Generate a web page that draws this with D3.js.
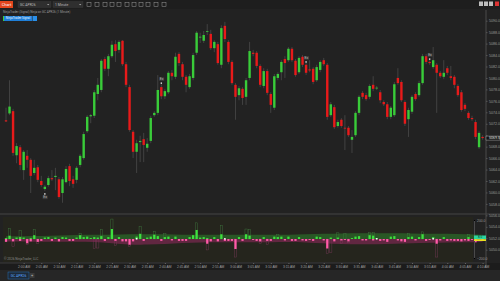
<!DOCTYPE html>
<html>
<head>
<meta charset="utf-8">
<script src="https://cdn.jsdelivr.net/npm/d3@7/dist/d3.min.js"></script>
<style>
html,body{margin:0;padding:0;background:#1c1c1c;}
svg{display:block;font-family:Roboto,"Open Sans",sans-serif;}
</style>
</head>
<body>
<svg id="chart" width="500" height="281"></svg>
<script>
// candle data, 1 minute bars
const open = [5072.6,5073.8,5074.2,5066.5,5067.9,5063.9,5066.4,5065.7,5063.4,5064.4,
  5062.0,5060.6,5061.3,5062.5,5062.7,5062.3,5059.9,5061.8,5064.6,5062.3,
  5062.2,5064.8,5066.0,5070.7,5073.3,5073.4,5077.2,5077.9,5083.3,5081.6,
  5083.8,5085.9,5084.9,5086.5,5082.4,5078.4,5070.6,5067.1,5068.8,5069.3,
  5067.8,5069.0,5073.5,5073.9,5078.4,5076.8,5077.5,5080.9,5080.2,5084.2,
  5082.4,5080.2,5078.4,5080.0,5084.4,5087.1,5086.5,5088.1,5087.7,5085.2,
  5085.9,5082.3,5089.1,5086.3,5082.8,5078.8,5077.0,5078.1,5076.7,5080.0,
  5084.4,5084.4,5082.1,5078.6,5081.2,5077.2,5074.8,5080.0,5081.0,5083.3,
  5083.1,5085.1,5083.0,5081.0,5083.7,5082.3,5081.5,5081.6,5079.6,5081.4,
  5083.1,5082.3,5073.5,5074.9,5071.6,5072.7,5071.3,5071.3,5069.2,5070.0,
  5073.9,5077.4,5077.0,5076.7,5078.8,5078.2,5077.5,5075.8,5075.4,5073.2,
  5073.5,5080.0,5079.3,5075.8,5072.8,5074.1,5077.2,5077.0,5079.1,5083.8,
  5082.8,5081.9,5082.3,5080.9,5080.2,5081.7,5080.3,5080.2,5078.6,5077.5,
  5075.3,5073.9,5073.0,5072.3,5067.9,5069.7];
const high = [5074.8,5079.6,5074.6,5068.6,5068.3,5067.4,5067.4,5066.0,5065.7,5064.8,
  5062.9,5061.3,5062.9,5063.9,5064.3,5062.7,5062.7,5064.6,5065.0,5062.9,
  5064.6,5066.7,5070.6,5073.5,5073.7,5077.9,5080.0,5083.3,5083.7,5084.2,
  5086.5,5086.6,5086.6,5086.6,5082.8,5078.8,5070.9,5069.2,5069.9,5070.4,
  5069.5,5073.4,5074.2,5080.5,5078.9,5078.1,5081.2,5081.4,5084.4,5084.5,
  5082.8,5080.5,5080.7,5084.4,5088.2,5087.9,5088.2,5089.4,5088.4,5086.6,
  5086.3,5089.2,5089.8,5086.6,5083.1,5079.1,5078.6,5078.4,5080.0,5086.3,
  5084.9,5084.7,5082.4,5081.7,5081.6,5077.5,5080.7,5081.0,5083.1,5083.8,
  5085.4,5085.4,5083.3,5083.8,5084.0,5082.6,5083.1,5081.9,5082.3,5083.1,
  5083.5,5082.6,5075.8,5075.3,5072.7,5073.0,5073.5,5071.6,5070.9,5074.2,
  5077.0,5077.7,5077.4,5078.9,5080.3,5078.6,5077.9,5076.1,5075.8,5075.1,
  5079.3,5081.7,5079.6,5076.1,5074.8,5077.0,5077.5,5079.5,5084.2,5084.2,
  5083.1,5085.4,5082.6,5081.2,5083.1,5082.1,5082.1,5080.5,5078.9,5077.9,
  5075.6,5074.2,5073.4,5072.7,5070.7,5070.0];
const low = [5072.3,5073.5,5066.4,5065.1,5063.9,5062.2,5064.3,5059.9,5063.0,5061.8,
  5061.0,5060.3,5061.0,5062.0,5060.4,5058.9,5058.2,5061.6,5061.1,5060.8,
  5061.6,5064.4,5065.7,5070.4,5072.1,5073.0,5076.1,5077.5,5081.2,5080.3,
  5083.5,5082.8,5084.4,5082.1,5078.4,5070.6,5066.0,5063.4,5065.3,5065.3,
  5067.1,5068.6,5073.2,5073.5,5076.3,5076.3,5077.2,5079.6,5079.8,5082.1,
  5079.6,5077.5,5078.1,5079.6,5084.0,5086.1,5086.1,5087.5,5084.9,5084.5,
  5082.3,5081.7,5086.3,5082.4,5078.8,5072.7,5076.1,5075.3,5075.3,5079.6,
  5083.8,5081.7,5078.4,5078.2,5077.0,5073.9,5074.4,5079.6,5079.6,5080.0,
  5082.8,5082.8,5080.2,5080.7,5081.9,5080.5,5081.0,5078.9,5079.3,5081.0,
  5082.1,5072.7,5073.2,5071.1,5071.3,5071.3,5067.4,5069.7,5066.9,5069.7,
  5073.5,5076.3,5076.0,5076.3,5077.7,5077.9,5075.6,5075.1,5072.8,5072.8,
  5073.2,5078.8,5075.8,5071.6,5069.7,5073.7,5076.0,5076.7,5078.8,5082.4,
  5082.3,5081.6,5073.9,5080.0,5079.8,5080.5,5079.6,5078.2,5076.7,5074.1,
  5074.2,5072.7,5072.5,5069.3,5067.6,5069.2];
const close = [5072.4,5075.0,5066.9,5068.1,5064.8,5067.1,5065.7,5062.9,5064.3,5062.2,
  5061.3,5061.0,5062.5,5062.3,5062.9,5059.2,5062.3,5064.1,5062.0,5061.5,
  5064.3,5066.4,5070.2,5073.2,5073.5,5077.5,5078.8,5083.0,5081.6,5083.8,
  5085.8,5084.7,5086.3,5082.4,5078.8,5070.9,5067.1,5068.6,5069.0,5068.3,
  5068.5,5073.0,5073.9,5077.9,5076.8,5077.7,5080.9,5080.3,5083.7,5082.6,
  5080.2,5078.8,5080.3,5084.0,5087.9,5087.2,5087.5,5088.2,5085.2,5086.3,
  5082.6,5088.7,5086.8,5082.8,5079.1,5076.7,5078.2,5076.5,5079.6,5084.7,
  5084.2,5082.1,5078.8,5081.2,5077.4,5075.3,5080.3,5080.7,5082.8,5082.6,
  5085.1,5083.1,5080.5,5083.5,5082.3,5080.9,5081.3,5079.3,5081.9,5082.8,
  5082.4,5073.2,5075.4,5071.4,5072.3,5071.6,5071.2,5070.0,5069.7,5073.9,
  5076.7,5076.7,5076.3,5078.6,5078.1,5078.3,5076.1,5075.4,5073.2,5074.8,
  5078.9,5079.1,5076.1,5072.0,5074.4,5076.7,5076.3,5079.1,5083.8,5082.8,
  5082.6,5083.1,5080.9,5080.3,5080.9,5080.9,5080.0,5078.8,5077.0,5074.4,
  5074.6,5073.0,5072.8,5069.7,5070.4,5069.5];

// price axis labels and time axis labels
const priceTicks = [5090,5088,5086,5084,5082,5080,5078,5076,5074,5072,5070,
  5068,5066,5064,5062,5060,5058,5056,5054,5052,5050];
const timeBars = [5,10,15,20,25,30,35,40,45,50,55,60,65,70,75,80,85,90,95,100,105,110,115,120,125,130,135];
const timeLabels = ["2:00 AM","2:05 AM","2:10 AM","2:15 AM","2:20 AM","2:25 AM","2:30 AM","2:35 AM","2:40 AM",
  "2:45 AM","2:50 AM","2:55 AM","3:00 AM","3:05 AM","3:10 AM","3:15 AM","3:20 AM","3:25 AM","3:30 AM",
  "3:35 AM","3:40 AM","3:45 AM","3:50 AM","3:55 AM","4:00 AM","4:05 AM","4:10 AM"];

// exit markers (bar index)
const exitBars = [11,44,85,120];
const exitAbove = [false,true,true,true];

// indicator pane: buy / sell delta per bar, plus outline maximums
const buyVol = [10,35,0,15,20,15,0,10,40,0, 0,15,20,0,15,0,20,15,0,0,
  15,40,20,25,10,20,15,30,0,20, 105,0,20,0,0,0,0,25,55,0,
  15,25,45,30,0,20,25,0,25,0, 0,0,20,40,95,15,20,10,0,20,
  0,50,0,0,0,0,20,0,50,35, 0,0,0,20,0,0,25,20,25,0,
  25,0,0,20,0,0,0,0,25,20, 0,0,15,0,15,0,0,0,10,25,
  30,0,0,40,35,10,0,0,0,25, 30,0,0,0,20,25,0,20,50,0,
  0,20,0,0,20,0,0,0,0,0, 0,20,0,0,25,0];
const sellVol = [-30,0,-25,0,-20,0,-45,-25,0,-30, -20,0,0,-20,0,-25,0,0,-20,-20,
  0,0,0,0,0,0,0,0,-20,0, 0,-20,0,-25,-25,-60,-25,0,0,-20,
  0,0,0,0,-20,0,0,-15,0,-20, -20,-20,0,0,0,0,0,-50,-25,0,
  -25,0,-20,-20,-20,-105,0,-20,0,0, -10,-20,-25,0,-20,-20,0,0,0,-15,
  0,-20,-20,0,-15,-20,-10,-20,0,0, -15,-100,0,-25,0,-15,-10,-25,0,0,
  0,-15,-15,0,-15,0,-20,-15,-30,0, 0,-15,-25,-30,0,0,-15,0,0,-20,
  -10,0,-50,-15,0,-20,-15,-20,-20,-25, -15,-20,-10,-35,0,-10];
const buyMax = [0,110,0,0,90,0,0,0,100,0, 0,0,0,0,0,0,0,0,0,0,
  0,60,0,0,0,0,0,100,0,0, 210,0,0,0,0,0,0,0,130,0,
  0,0,80,0,0,60,0,0,0,0, 0,0,0,0,170,0,0,0,0,0,
  0,140,0,0,0,0,0,0,105,100, 0,0,0,0,0,0,0,50,0,0,
  0,0,0,0,0,0,0,0,0,0, 0,0,0,0,65,0,60,0,0,0,
  0,0,0,70,70,0,0,0,0,0, 0,0,0,0,60,0,0,0,75,0,
  0,0,0,0,0,0,0,0,0,0, 0,50,0,0,0,0];
const sellMax = [0,0,-80,0,0,0,-60,0,0,-50, 0,0,0,0,0,0,0,0,0,0,
  0,0,0,0,0,-100,-95,0,0,0, 0,-70,0,0,0,-80,0,0,0,0,
  0,0,0,0,0,0,0,0,0,0, 0,0,0,0,0,0,0,-115,0,0,
  0,0,0,0,0,-190,0,0,0,0, 0,0,-50,0,-60,0,0,0,0,0,
  0,0,0,0,0,0,0,0,0,0, 0,-150,-140,0,0,-50,0,-40,0,0,
  0,0,0,0,0,0,0,0,0,0, 0,0,0,0,0,0,0,0,0,0,
  0,0,-190,0,0,0,0,0,0,0, 0,0,0,0,0,0];
// smoothed bands, sampled every 5 bars
const bandBars = [0,5,10,15,20,25,30,35,40,45,50,55,60,65,70,75,80,85,90,95,100,105,110,115,120,125,130,135];
const greenBand = [30,30,30,35,45,45,45,50,50,50,45,45,45,45,45,45,45,50,55,60,60,60,60,60,55,55,50,45];
const pinkBand = [-25,-25,-30,-30,-30,-30,-45,-60,-60,-55,-40,-35,-35,-35,-35,-35,-30,-35,-45,-55,-55,-55,-50,-45,-40,-35,-35,-30];
const markerBars = [37,62,105,121];

const W = 500, H = 281;
const svg = d3.select('#chart');
const UP = '#39cc39', DN = '#e81a1a', WICK = '#4a4a4a';

// background pieces
svg.append('rect').attr('width',W).attr('height',H).attr('fill','#1c1c1c');
svg.append('rect').attr('x',0).attr('y',9).attr('width',W).attr('height',204).attr('fill','#222222');
svg.append('rect').attr('x',0).attr('y',213).attr('width',W).attr('height',50).attr('fill','#222222');
svg.append('rect').attr('x',3).attr('y',217).attr('width',470).attr('height',45).attr('fill','#25251d');
svg.append('line').attr('x1',0).attr('x2',W).attr('y1',214).attr('y2',214).attr('stroke','#3a3a3a').attr('stroke-width',1.5);
svg.append('rect').attr('x',0).attr('y',270).attr('width',W).attr('height',11).attr('fill','#262626');

const x = d3.scaleLinear().domain([0,135]).range([6,482.6]);
const y = d3.scaleLinear().domain([5090,5050]).range([20.7,249.7]);
const yi = d3.scaleLinear().domain([200,-200]).range([220,258]);
const lastY = y(close[135]);

// price axis (labels next to the live price box are hidden)
const pAxis = svg.append('g').attr('transform','translate(486,0)')
  .call(d3.axisRight(y).tickValues(priceTicks).tickFormat(d3.format('.1f')).tickSize(1.5).tickPadding(1.5));
pAxis.select('.domain').attr('stroke','#4a4a4a').attr('d','M0,10V268');
pAxis.selectAll('line').attr('stroke','#555');
pAxis.selectAll('text').attr('fill','#9a9a9a').attr('font-size',3.6)
  .attr('display',d=>Math.abs(y(d)-lastY)<4.5?'none':null);

// candles
const bars = d3.range(open.length);
const cg = svg.append('g');
cg.selectAll('line.wick').data(bars).enter().append('line')
  .attr('x1',i=>x(i)).attr('x2',i=>x(i))
  .attr('y1',i=>y(high[i])).attr('y2',i=>y(low[i]))
  .attr('stroke',WICK).attr('stroke-width',0.8);
cg.selectAll('rect.body').data(bars).enter().append('rect')
  .attr('x',i=>x(i)-1.2).attr('width',2.4)
  .attr('y',i=>y(Math.max(open[i],close[i])))
  .attr('height',i=>Math.max(0.8,Math.abs(y(open[i])-y(close[i]))))
  .attr('fill',i=>close[i]>=open[i]?UP:DN);

// exit markers
exitBars.forEach((b,k)=>{
  const above = exitAbove[k];
  const yy = above ? y(high[b]) - 4 : y(low[b]) + 3;
  const g = svg.append('g');
  g.append('rect').attr('x',x(b)-0.7).attr('y',above?yy+2.2:yy-0.5).attr('width',1.4).attr('height',1.4).attr('fill','#e8e8e8');
  g.append('rect').attr('x',x(b)-2.2).attr('y',above?yy-3:yy+1.8).attr('width',5).attr('height',3.6).attr('fill','#3c3c3c');
  g.append('text').attr('x',x(b)+0.3).attr('y',above?yy-0.4:yy+4.5).attr('text-anchor','middle')
    .attr('font-size',3.4).attr('fill','#bbbbbb').text('Ex');
});

// current price marker
svg.append('rect').attr('x',486).attr('y',lastY-2).attr('width',14).attr('height',4)
  .attr('fill','#111').attr('stroke','#cfcfcf').attr('stroke-width',0.4);
svg.append('text').attr('x',489).attr('y',lastY+1.2).attr('font-size',3.6).attr('fill','#e0e0e0')
  .text(d3.format('.1f')(close[135]));

// indicator pane
const ig = svg.append('g');
const area = d3.area().x((d,k)=>x(bandBars[k])).y0(yi(0)).y1(d=>yi(d)).curve(d3.curveBasis);
ig.append('path').datum(greenBand).attr('d',area).attr('fill','#2e8a2e').attr('opacity',0.5);
ig.append('path').datum(pinkBand).attr('d',area).attr('fill','#8a2a5a').attr('opacity',0.6);
ig.selectAll('rect.bmax').data(bars.filter(i=>buyMax[i]>0)).enter().append('rect')
  .attr('x',i=>x(i)-1.1).attr('width',2.2).attr('y',i=>yi(buyMax[i])).attr('height',i=>yi(0)-yi(buyMax[i]))
  .attr('fill','none').attr('stroke','#3f7a3f').attr('stroke-width',0.4);
ig.selectAll('rect.smax').data(bars.filter(i=>sellMax[i]<0)).enter().append('rect')
  .attr('x',i=>x(i)-1.1).attr('width',2.2).attr('y',yi(0)).attr('height',i=>yi(sellMax[i])-yi(0))
  .attr('fill','none').attr('stroke','#7a3a5a').attr('stroke-width',0.4);
ig.selectAll('rect.buy').data(bars.filter(i=>buyVol[i]>0)).enter().append('rect')
  .attr('x',i=>x(i)-1.1).attr('width',2.2).attr('y',i=>yi(buyVol[i])).attr('height',i=>yi(0)-yi(buyVol[i]))
  .attr('fill','#3ee03e');
ig.selectAll('rect.sell').data(bars.filter(i=>sellVol[i]<0)).enter().append('rect')
  .attr('x',i=>x(i)-1.1).attr('width',2.2).attr('y',yi(0)).attr('height',i=>yi(sellVol[i])-yi(0))
  .attr('fill','#ff5aa8');
ig.selectAll('rect.mk').data(markerBars).enter().append('rect')
  .attr('x',i=>x(i)-0.8).attr('y',yi(0)-1).attr('width',1.6).attr('height',1.6).attr('fill','#f0f0f0');
// indicator axis
const iAxis = svg.append('g').attr('transform','translate(474,0)')
  .call(d3.axisRight(yi).tickValues([200,-200]).tickFormat(d3.format('.1f')).tickSize(1).tickPadding(2));
iAxis.select('.domain').attr('stroke','#4a4a4a');
iAxis.selectAll('text').attr('fill','#9a9a9a').attr('font-size',3.4);
svg.append('rect').attr('x',474).attr('y',235.5).attr('width',12).attr('height',3.6).attr('fill','#2ad6a0');
svg.append('rect').attr('x',474).attr('y',239.2).attr('width',12).attr('height',1.8).attr('fill','#e8e020');
svg.append('text').attr('x',480).attr('y',238.3).attr('text-anchor','middle').attr('font-size',3).attr('fill','#103020').text('8.0');
svg.append('text').attr('x',4).attr('y',260).attr('font-size',3.2).attr('fill','#8a8a8a').text('© 2026 NinjaTrader, LLC');

// time axis
const tAxis = svg.append('g').attr('transform','translate(0,263)')
  .call(d3.axisBottom(x).tickValues(timeBars).tickFormat((d,k)=>timeLabels[k]).tickSize(1).tickPadding(1.5));
tAxis.select('.domain').attr('stroke','#3a3a3a').attr('d','M0,0H486');
tAxis.selectAll('line').attr('stroke','#666');
tAxis.selectAll('text').attr('fill','#a0a0a0').attr('font-size',3.3);

// toolbar
svg.append('rect').attr('x',0).attr('y',0).attr('width',W).attr('height',9).attr('fill','#1e1e1e');
svg.append('rect').attr('x',0).attr('y',1).attr('width',13).attr('height',7).attr('fill','#e2451c');
svg.append('text').attr('x',6.5).attr('y',5.8).attr('text-anchor','middle').attr('font-size',4).attr('fill','#fff').text('Chart');
[[18,33,'GC APR26'],[53,30,'1 Minute']].forEach(b=>{
  svg.append('rect').attr('x',b[0]).attr('y',1.5).attr('width',b[1]).attr('height',6).attr('fill','#2f2f2f').attr('stroke','#444').attr('stroke-width',0.3);
  svg.append('text').attr('x',b[0]+2).attr('y',5.6).attr('font-size',3.4).attr('fill','#bdbdbd').text(b[2]);
  svg.append('path').attr('d',`M${b[0]+b[1]-4},4 l1.2,1.3 l1.2,-1.3z`).attr('fill','#aaa');
});
const iconX = [89,97,105,112,119,127,134,141,148,156,164];
iconX.forEach(ix=>{
  svg.append('rect').attr('x',ix-2).attr('y',2.5).attr('width',4).attr('height',4).attr('fill','none').attr('stroke','#9a9a9a').attr('stroke-width',0.5);
});
[479,484,489,495].forEach((wx,k)=>{
  svg.append('rect').attr('x',wx).attr('y',1.5).attr('width',4).attr('height',4.5).attr('fill',k===3?'#d33':'#bdbdbd');
});
svg.append('text').attr('x',3).attr('y',13).attr('font-size',3).attr('fill','#9a9a9a').text('NinjaTrader (Signal) Ninja on GC APR26 (1 Minute)');
svg.append('rect').attr('x',3).attr('y',16).attr('width',29).attr('height',5).attr('fill','#1f7fd8');
svg.append('rect').attr('x',3).attr('y',16).attr('width',1).attr('height',5).attr('fill','#3cd23c');
svg.append('rect').attr('x',32.5).attr('y',16).attr('width',4.5).attr('height',5).attr('fill','#2a8fe8');
svg.append('text').attr('x',18).attr('y',19.4).attr('text-anchor','middle').attr('font-size',3).attr('fill','#e8f2ff').text('NinjaTrader Signal');

// bottom tab
svg.append('rect').attr('x',8).attr('y',272).attr('width',21).attr('height',7).attr('fill','#1d2a38').attr('stroke','#2a7fd0').attr('stroke-width',0.4);
svg.append('text').attr('x',18.5).attr('y',276.8).attr('text-anchor','middle').attr('font-size',3.4).attr('fill','#5aa8ff').text('GC APR26');
svg.append('rect').attr('x',30).attr('y',273).attr('width',4.5).attr('height',5).attr('fill','#3a3a3a');
svg.append('text').attr('x',32.2).attr('y',276.8).attr('text-anchor','middle').attr('font-size',4).attr('fill','#bbb').text('+');
</script>
</body>
</html>
